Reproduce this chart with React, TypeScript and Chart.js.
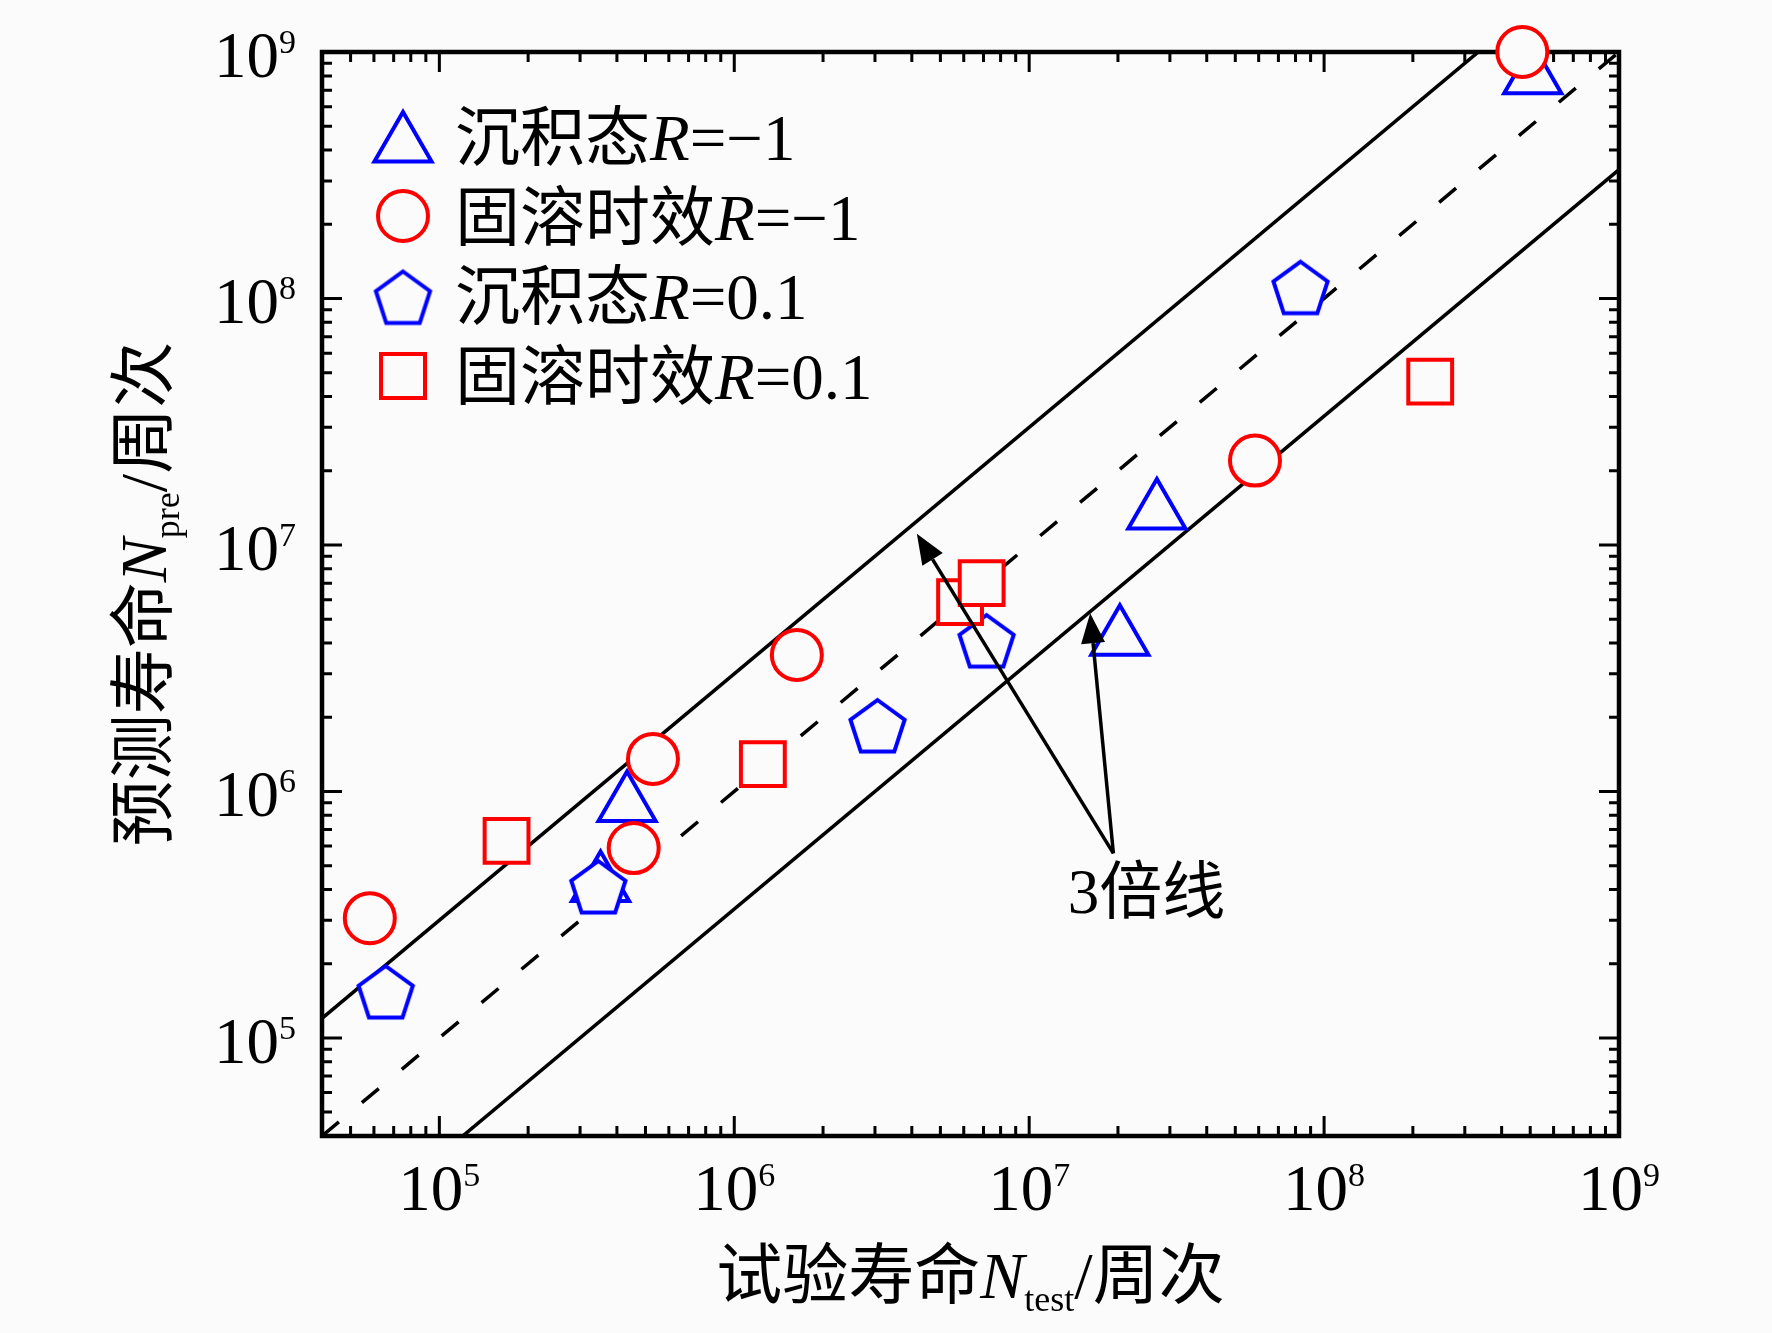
import React, { useEffect, useRef } from "react";
import { Chart, registerables } from "chart.js";

Chart.register(...registerables);

const W = 1772;
const H = 1333;
const BG = "#fbfbfb";
const BLUE = "#0000ff";
const RED = "#ff0000";
const SERIF = '"Liberation Serif", "Times New Roman", "Noto Sans CJK SC", serif';

// 沉积态 R=-1 (triangles): test life / predicted life
const asDepRm1Test = [3.52e5, 4.33e5, 2.03e7, 2.71e7, 5.1e8];
const asDepRm1Pred = [4.19e5, 8.86e5, 4.18e6, 1.36e7, 7.93e8];

// 固溶时效 R=-1 (circles)
const agedRm1Test = [5.81e4, 4.56e5, 5.3e5, 1.63e6, 5.83e7, 4.7e8];
const agedRm1Pred = [3.06e5, 5.89e5, 1.355e6, 3.58e6, 2.2e7, 1.0e9];

// 沉积态 R=0.1 (pentagons)
const asDepR01Test = [6.58e4, 3.46e5, 3.06e6, 7.17e6, 8.32e7];
const asDepR01Pred = [1.5e5, 4.0e5, 1.8e6, 3.98e6, 1.08e8];

// 固溶时效 R=0.1 (squares)
const agedR01Test = [1.69e5, 1.25e6, 5.83e6, 6.9e6, 2.29e8];
const agedR01Pred = [6.3e5, 1.29e6, 5.86e6, 7.0e6, 4.6e7];

// reference lines: 1:1 and the 3x band
const lineX = [4e4, 1e9];
const equalY = [4e4, 1e9];
const upperY = [1.2e5, 3e9];
const lowerY = [1.333e4, 3.333e8];

// axis range and ticks
const AX_MIN = 4e4;
const AX_MAX = 1e9;
const majorTicks = [1e5, 1e6, 1e7, 1e8, 1e9];
const majorExps = ["5", "6", "7", "8", "9"];
const minorMult = [2, 3, 4, 5, 6, 7, 8, 9];
const decades = [1e4, 1e5, 1e6, 1e7, 1e8];

// "3倍线" note with two arrows
const noteText = "3倍线";
const notePos = [2.5e7, 3.74e5];
const arrowBase = [1.93e7, 5.61e5];
const arrowTips = [
  [4.16e6, 1.11e7],
  [1.61e7, 5.28e6],
];

const legendNames = ["沉积态", "固溶时效", "沉积态", "固溶时效"];
const legendRs = ["=−1", "=−1", "=0.1", "=0.1"];

const MARK_LW = 4;

type Run = { text: string; size: number; italic?: boolean; dy?: number };

const fontOf = (r: Run) => `${r.italic ? "italic " : ""}${r.size}px ${SERIF}`;

const drawRuns = (
  ctx: CanvasRenderingContext2D,
  runs: Run[],
  x: number,
  y: number,
  align: "left" | "center" | "right"
) => {
  const widths = runs.map((r) => {
    ctx.font = fontOf(r);
    return ctx.measureText(r.text).width;
  });
  const total = widths.reduce((a, b) => a + b, 0);
  let cx = align === "left" ? x : align === "center" ? x - total / 2 : x - total;
  ctx.textAlign = "left";
  ctx.textBaseline = "alphabetic";
  runs.forEach((r, i) => {
    ctx.font = fontOf(r);
    ctx.fillText(r.text, cx, y + (r.dy || 0));
    cx += widths[i];
  });
};

const makePentagon = (R: number, lw: number) => {
  const c = document.createElement("canvas");
  const s = Math.ceil(2 * R + 2 * lw);
  c.width = s;
  c.height = s;
  const g = c.getContext("2d")!;
  g.beginPath();
  for (let k = 0; k < 5; k++) {
    const a = -Math.PI / 2 + (k * 2 * Math.PI) / 5;
    const px = s / 2 + R * Math.cos(a);
    const py = s / 2 + R * Math.sin(a);
    if (k === 0) g.moveTo(px, py);
    else g.lineTo(px, py);
  }
  g.closePath();
  g.fillStyle = BG;
  g.fill();
  g.lineWidth = lw;
  g.strokeStyle = BLUE;
  g.stroke();
  return c;
};

const pts = (xs: number[], ys: number[]) => xs.map((x, i) => ({ x, y: ys[i] }));

const App: React.FC = () => {
  const canvasRef = useRef<HTMLCanvasElement>(null);
  const chartRef = useRef<Chart | null>(null);

  useEffect(() => {
    const canvas = canvasRef.current;
    if (!canvas) return;
    if (chartRef.current) chartRef.current.destroy();

    const pentagon = makePentagon(28.5, MARK_LW);

    const decorPlugin = {
      id: "decor",
      beforeDraw(chart: any) {
        const ctx = chart.ctx as CanvasRenderingContext2D;
        ctx.save();
        ctx.fillStyle = BG;
        ctx.fillRect(0, 0, chart.width, chart.height);
        ctx.restore();
      },
      beforeDatasetsDraw(chart: any) {
        const ctx = chart.ctx as CanvasRenderingContext2D;
        const { left, right, top, bottom } = chart.chartArea;
        const xs = chart.scales.x;
        const ys = chart.scales.y;
        ctx.save();
        ctx.strokeStyle = "#000";
        // ticks, inward on all four sides
        ctx.lineWidth = 3;
        const tick = (v: number, len: number) => {
          const px = xs.getPixelForValue(v);
          const py = ys.getPixelForValue(v);
          ctx.beginPath();
          if (v >= AX_MIN && v <= AX_MAX) {
            ctx.moveTo(px, bottom);
            ctx.lineTo(px, bottom - len);
            ctx.moveTo(px, top);
            ctx.lineTo(px, top + len);
            ctx.moveTo(left, py);
            ctx.lineTo(left + len, py);
            ctx.moveTo(right, py);
            ctx.lineTo(right - len, py);
          }
          ctx.stroke();
        };
        decades.forEach((d) => minorMult.forEach((m) => tick(m * d, 10)));
        majorTicks.forEach((v) => tick(v, 20));
        // frame
        ctx.lineWidth = 4.5;
        ctx.strokeRect(left, top, right - left, bottom - top);
        ctx.restore();
      },
      afterDatasetsDraw(chart: any) {
        const ctx = chart.ctx as CanvasRenderingContext2D;
        const { left, right, top, bottom } = chart.chartArea;
        const xs = chart.scales.x;
        const ys = chart.scales.y;
        ctx.save();
        ctx.fillStyle = "#000";
        ctx.strokeStyle = "#000";

        // tick labels 10^n
        majorTicks.forEach((v, i) => {
          const runs: Run[] = [
            { text: "10", size: 65 },
            { text: majorExps[i], size: 34, dy: -24 },
          ];
          drawRuns(ctx, runs, xs.getPixelForValue(v), bottom + 74, "center");
          drawRuns(ctx, runs, left - 26, ys.getPixelForValue(v) + 25, "right");
        });

        // axis titles
        drawRuns(
          ctx,
          [
            { text: "试验寿命", size: 66 },
            { text: "N", size: 66, italic: true },
            { text: "test", size: 36, dy: 13 },
            { text: "/周次", size: 66 },
          ],
          (left + right) / 2,
          1298,
          "center"
        );
        ctx.save();
        ctx.translate(166, (top + bottom) / 2);
        ctx.rotate(-Math.PI / 2);
        drawRuns(
          ctx,
          [
            { text: "预测寿命", size: 66 },
            { text: "N", size: 66, italic: true },
            { text: "pre", size: 36, dy: 13 },
            { text: "/周次", size: 66 },
          ],
          0,
          0,
          "center"
        );
        ctx.restore();

        // arrows
        const bx = xs.getPixelForValue(arrowBase[0]);
        const by = ys.getPixelForValue(arrowBase[1]);
        arrowTips.forEach(([tx, ty]) => {
          const px = xs.getPixelForValue(tx);
          const py = ys.getPixelForValue(ty);
          const ang = Math.atan2(py - by, px - bx);
          const hl = 30;
          const hw = 12;
          const ex = px - Math.cos(ang) * hl;
          const ey = py - Math.sin(ang) * hl;
          ctx.lineWidth = 3.5;
          ctx.beginPath();
          ctx.moveTo(bx, by);
          ctx.lineTo(ex, ey);
          ctx.stroke();
          ctx.beginPath();
          ctx.moveTo(px, py);
          ctx.lineTo(ex + Math.sin(ang) * hw, ey - Math.cos(ang) * hw);
          ctx.lineTo(ex - Math.sin(ang) * hw, ey + Math.cos(ang) * hw);
          ctx.closePath();
          ctx.fill();
        });
        ctx.font = `63px ${SERIF}`;
        ctx.textAlign = "center";
        ctx.textBaseline = "middle";
        ctx.fillText(noteText, xs.getPixelForValue(notePos[0]), ys.getPixelForValue(notePos[1]));

        // legend
        const mx = 403;
        const rowBase = [160, 240, 319, 399];
        ctx.lineWidth = MARK_LW;
        ctx.lineJoin = "miter";
        // triangle
        {
          const cy = 145;
          const r = 33;
          ctx.beginPath();
          for (let k = 0; k < 3; k++) {
            const a = (k * 2 * Math.PI) / 3;
            const px = mx + Math.sin(a) * r;
            const py = cy - Math.cos(a) * r;
            if (k === 0) ctx.moveTo(px, py);
            else ctx.lineTo(px, py);
          }
          ctx.closePath();
          ctx.fillStyle = BG;
          ctx.fill();
          ctx.strokeStyle = BLUE;
          ctx.stroke();
        }
        // circle
        ctx.beginPath();
        ctx.arc(mx, 216, 25, 0, Math.PI * 2);
        ctx.fillStyle = BG;
        ctx.fill();
        ctx.strokeStyle = RED;
        ctx.stroke();
        // pentagon
        ctx.drawImage(pentagon, mx - pentagon.width / 2, 300 - pentagon.height / 2);
        // square
        ctx.beginPath();
        ctx.rect(mx - 22, 376 - 22, 44, 44);
        ctx.fillStyle = BG;
        ctx.fill();
        ctx.strokeStyle = RED;
        ctx.stroke();

        ctx.fillStyle = "#000";
        legendNames.forEach((name, i) => {
          drawRuns(
            ctx,
            [
              { text: name, size: 65 },
              { text: "R", size: 65, italic: true },
              { text: legendRs[i], size: 65 },
            ],
            455,
            rowBase[i],
            "left"
          );
        });
        ctx.restore();
      },
    };

    const refLine = (ys: number[], dash: number[]) => ({
      data: pts(lineX, ys),
      showLine: true,
      borderColor: "#000",
      borderWidth: 3.5,
      borderDash: dash,
      pointRadius: 0,
      fill: false,
      order: 10,
    });

    chartRef.current = new Chart(canvas, {
      type: "scatter",
      data: {
        datasets: [
          refLine(upperY, []),
          refLine(equalY, [22, 30]),
          refLine(lowerY, []),
          {
            label: "沉积态R=−1",
            data: pts(asDepRm1Test, asDepRm1Pred),
            pointStyle: "triangle",
            pointRadius: 33,
            pointBorderWidth: MARK_LW,
            pointBorderColor: BLUE,
            pointBackgroundColor: BG,
            clip: false,
            order: 4,
          },
          {
            label: "固溶时效R=−1",
            data: pts(agedRm1Test, agedRm1Pred),
            pointStyle: "circle",
            pointRadius: 25,
            pointBorderWidth: MARK_LW,
            pointBorderColor: RED,
            pointBackgroundColor: BG,
            clip: false,
            order: 3,
          },
          {
            label: "沉积态R=0.1",
            data: pts(asDepR01Test, asDepR01Pred),
            pointStyle: pentagon,
            pointRadius: 28,
            clip: false,
            order: 2,
          },
          {
            label: "固溶时效R=0.1",
            data: pts(agedR01Test, agedR01Pred),
            pointStyle: "rect",
            pointRadius: 31,
            pointBorderWidth: MARK_LW,
            pointBorderColor: RED,
            pointBackgroundColor: BG,
            clip: false,
            order: 1,
          },
        ] as any,
      },
      options: {
        animation: false,
        responsive: false,
        events: [],
        layout: { padding: { left: 0, right: 153, top: 52, bottom: 0 } },
        plugins: {
          legend: { display: false },
          tooltip: { enabled: false },
        },
        scales: {
          x: {
            type: "logarithmic",
            min: AX_MIN,
            max: AX_MAX,
            grid: { display: false },
            border: { display: false },
            ticks: { display: false },
            afterFit: (s: any) => {
              s.height = 197;
            },
          },
          y: {
            type: "logarithmic",
            min: AX_MIN,
            max: AX_MAX,
            grid: { display: false },
            border: { display: false },
            ticks: { display: false },
            afterFit: (s: any) => {
              s.width = 322;
            },
          },
        },
      },
      plugins: [decorPlugin],
    });

    return () => {
      chartRef.current?.destroy();
      chartRef.current = null;
    };
  }, []);

  return (
    <div style={{ position: "absolute", left: 0, top: 0, width: W, height: H, background: BG }}>
      <canvas ref={canvasRef} width={W} height={H} style={{ width: W, height: H, display: "block" }} />
    </div>
  );
};

export default App;
